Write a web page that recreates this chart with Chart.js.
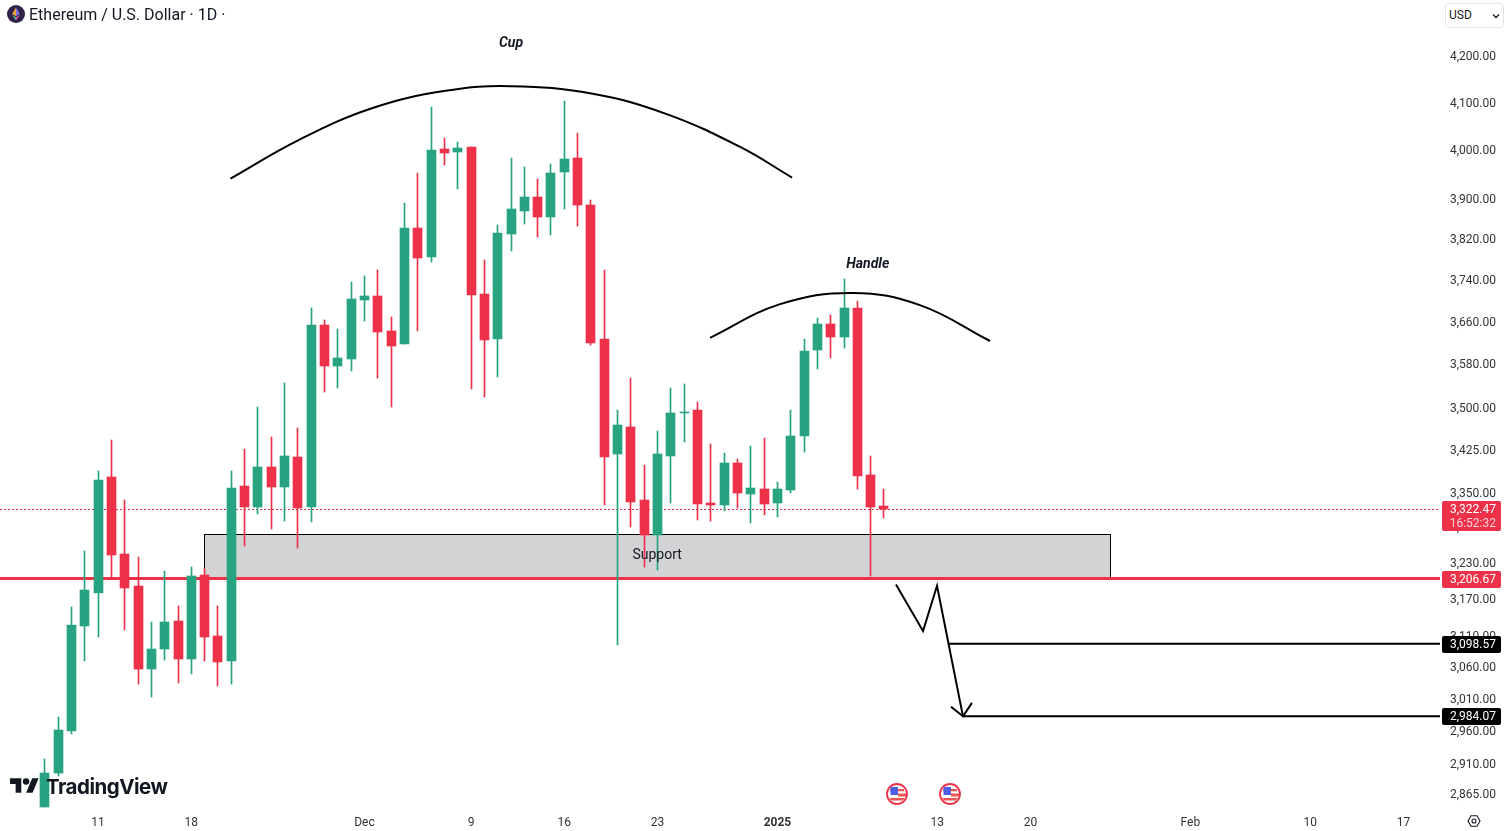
<!DOCTYPE html>
<html>
<head>
<meta charset="utf-8">
<title>Ethereum / U.S. Dollar</title>
<script src="https://cdn.jsdelivr.net/npm/chart.js@4/dist/chart.umd.js"></script>
<style>
  html, body { margin: 0; padding: 0; background: #fff; }
  #wrap { position: relative; width: 1506px; height: 831px; overflow: hidden; font-family: Roboto, sans-serif; }
  canvas { position: absolute; left: 0; top: 0; }
  .title { position: absolute; left: 29px; top: 5px; font-size: 16px; line-height: 19px; color: #131722; white-space: nowrap; }
  .coin { position: absolute; left: 7px; top: 5px; }
  .usd { position: absolute; left: 1445px; top: 3px; width: 57px; height: 23px; border: 1px solid #e0e3eb; border-radius: 4px; background: #fff; font-size: 12px; line-height: 23px; color: #131722; text-indent: 3px; }
  .usd svg { position: absolute; right: 3px; top: 9px; }
  .logo { position: absolute; left: 10px; top: 778px; }
  .logoText { position: absolute; left: 46px; top: 773px; font-family: Inter, sans-serif; font-weight: 700; font-size: 20.5px; line-height: 28px; color: #131722; letter-spacing: -0.5px; }
  .flag { position: absolute; top: 783px; }
  .gear { position: absolute; left: 1467px; top: 814px; }
</style>
</head>
<body>
<div id="wrap">
  <canvas id="chart" width="1506" height="831"></canvas>
  <svg class="coin" width="18" height="18" viewBox="0 0 18 18">
    <circle cx="9" cy="9" r="9" fill="#2f2147"/>
    <path d="M9 2.5L5 9l4 2.2z" fill="#e8a33d"/>
    <path d="M9 2.5L13 9l-4 2.2z" fill="#7c6fe0"/>
    <path d="M5 10l4 5.5v-3.2z" fill="#3fbf8f"/>
    <path d="M13 10l-4 5.5v-3.2z" fill="#e0559b"/>
  </svg>
  <div class="title">Ethereum / U.S. Dollar · 1D ·</div>
  <div class="usd">USD<svg width="8" height="6" viewBox="0 0 8 6"><path d="M1 1.5l3 3 3-3" fill="none" stroke="#131722" stroke-width="1.3"/></svg></div>
  <svg class="logo" width="29" height="15" viewBox="0 4 36 18"><path fill="#131722" d="M14 22H7V11H0V4h14v18zM28 22h-8l7.5-18h8L28 22z"/><circle fill="#131722" cx="20" cy="8" r="4"/></svg>
  <div class="logoText">TradingView</div>
  <svg class="flag" style="left:886px" width="22" height="22" viewBox="0 0 22 22"><use href="#usFlag"/></svg>
  <svg class="flag" style="left:939px" width="22" height="22" viewBox="0 0 22 22"><use href="#usFlag"/></svg>
  <svg class="gear" width="14" height="14" viewBox="0 0 14 14"><path d="M4 1.8h6L13 7l-3 5.2H4L1 7z" fill="none" stroke="#131722" stroke-width="1.1"/><circle cx="7" cy="7" r="2" fill="none" stroke="#131722" stroke-width="1.1"/></svg>
  <svg width="0" height="0" style="position:absolute">
    <symbol id="usFlag" viewBox="0 0 22 22">
      <circle cx="11" cy="11" r="10" fill="#fff" stroke="#ec3149" stroke-width="1.8"/>
      <path d="M4 6h14v2.2H4zM12 10.5h8v3h-8zM3.5 15h15l-1.5 2.5H5z" fill="#ef5350"/>
      <rect x="4.5" y="4" width="7.5" height="8" fill="#4d5fe0"/>
    </symbol>
  </svg>
</div>
<script>
// Daily candles, first one is 7 Nov
const opens = [2847,2898,2962,3127,3181,3378,3246,3193,3058,3090,3135,3074,3211,3111,3071,3363,3326,3396,3361,3414,3326,3655,3579,3591,3703,3710,3644,3619,3844,3786,4004,3998,4009,3715,3629,3832,3878,3906,3866,3957,3986,3890,3629,3419,3467,3338,3278,3415,3492,3498,3333,3330,3403,3349,3357,3333,3356,3451,3608,3657,3633,3688,3382,3328];
const highs = [2919,2983,3158,3251,3389,3444,3338,3241,3134,3218,3160,3225,3223,3160,3389,3428,3503,3449,3547,3465,3688,3665,3648,3738,3750,3761,3671,3894,3955,4093,4028,4019,4009,3781,3850,3986,3967,3943,3974,4105,4038,3900,3761,3498,3556,3400,3460,3538,3545,3512,3437,3421,3410,3433,3447,3370,3498,3629,3669,3674,3744,3701,3415,3358];
const lows = [2847,2893,2957,3071,3110,3208,3121,3035,3014,3073,3036,3050,3071,3032,3035,3260,3314,3289,3302,3256,3301,3531,3538,3569,3663,3556,3503,3619,3644,3777,3972,3922,3536,3521,3558,3798,3852,3826,3830,3882,3848,3618,3330,3097,3292,3224,3219,3333,3440,3304,3302,3319,3324,3299,3313,3309,3350,3422,3573,3593,3612,3357,3209,3307];
const closes = [2898,2963,3129,3186,3373,3244,3190,3058,3090,3134,3074,3210,3110,3070,3359,3326,3396,3361,3415,3324,3655,3579,3593,3705,3710,3642,3616,3844,3785,4002,3996,4006,3713,3627,3834,3882,3906,3866,3955,3984,3890,3621,3414,3471,3335,3278,3419,3492,3494,3331,3330,3403,3350,3359,3331,3357,3451,3606,3657,3633,3688,3380,3326,3322.47];

// Axis ticks
const priceTicks = [4200,4100,4000,3900,3820,3740,3660,3580,3500,3425,3350,3290,3230,3170,3110,3060,3010,2960,2910,2865];
const dateTickIndex = [4,11,24,32,39,46,55,67,74,86,95,102];
const dateTickLabels = ['11','18','Dec','9','16','23','2025','13','20','Feb','10','17'];

// Drawn on top of the candles
const cupIndex = [13.94,19.05,24.56,30.09,35,41.13,46.64,52.2,56.1];
const cupPrice = [3943.5,4023,4090,4127,4137,4120.6,4078,4008.6,3945.5];
const handleIndex = [49.94,55.2,60.67,65.7,70.96];
const handlePrice = [3631,3695,3716.5,3693,3625];
const zigzagIndex = [63.9,65.93,66.98,68.93];
const zigzagPrice = [3195,3119,3193,2984.07];
const arrowIndex = [68.03,68.93,69.6];
const arrowPrice = [2999,2984.07,3005];

// Tag values, and where their lines actually sit in the picture
const currentPrice = 3322.47;
const currentLine = 3321.8;
const supportPrice = 3206.67;
const supportLine = 3205;
const targetPrices = [3098.57,2984.07];
const targetStart = [67.88,68.93];
const supportBox = [11.95,80.05,3280,3208];

const upColor = '#28a382';
const downColor = '#ec3149';
const xMin = -3.363;
const xMax = 104.74;

const candleColors = closes.map((c, i) => (c >= opens[i] ? upColor : downColor));
const fmt = v => v.toLocaleString('en-US', { minimumFractionDigits: 2, maximumFractionDigits: 2 });
const toPoints = (xs, ys) => xs.map((x, i) => ({ x: x, y: ys[i] }));

function lineSet(points, color, width, order, extra) {
  return Object.assign({
    type: 'line',
    data: points,
    borderColor: color,
    borderWidth: width,
    pointRadius: 0,
    order: order
  }, extra || {});
}

// Snap the candles to whole pixels so wicks stay crisp
const snapCandles = {
  id: 'snapCandles',
  beforeDatasetsDraw(chart) {
    chart.getSortedVisibleDatasetMetas().forEach(meta => {
      if (meta.type !== 'bar') return;
      meta.data.forEach(el => {
        el.x = Math.floor(el.x) + 0.5;
        el.y = Math.round(el.y);
        el.base = Math.round(el.base);
        if (el.y === el.base) el.base += 1;
      });
    });
  }
};

// Grey support zone sits under everything
const supportZone = {
  id: 'supportZone',
  beforeDatasetsDraw(chart) {
    const { ctx, scales } = chart;
    const left = Math.round(scales.x.getPixelForValue(supportBox[0]));
    const right = Math.round(scales.x.getPixelForValue(supportBox[1]));
    const top = Math.round(scales.y.getPixelForValue(supportBox[2]));
    const bottom = Math.round(scales.y.getPixelForValue(supportBox[3]));
    ctx.save();
    ctx.fillStyle = '#d3d3d5';
    ctx.strokeStyle = '#000';
    ctx.lineWidth = 1;
    ctx.fillRect(left, top, right - left, bottom - top);
    ctx.strokeRect(left + 0.5, top + 0.5, right - left - 1, bottom - top);
    ctx.restore();
  }
};

// Pattern labels and the price tags on the axis
const noteIndex = [35,61.78,45.97];
const notePrice = [4228.4,3771,3244];
const noteText = ['Cup','Handle','Support'];
const noteFont = ['italic bold 14px Roboto','italic bold 14px Roboto','14px Roboto'];
const tagPrices = [supportLine,targetPrices[0],targetPrices[1]];
const tagLabels = [supportPrice,targetPrices[0],targetPrices[1]];
const tagColors = [downColor,'#000','#000'];

const labelsAndTags = {
  id: 'labelsAndTags',
  afterDraw(chart) {
    const { ctx, scales } = chart;
    ctx.save();
    ctx.textBaseline = 'middle';
    ctx.textAlign = 'center';
    ctx.fillStyle = '#131722';
    noteText.forEach((text, i) => {
      ctx.font = noteFont[i];
      ctx.fillText(text, scales.x.getPixelForValue(noteIndex[i]), scales.y.getPixelForValue(notePrice[i]));
    });

    ctx.font = '12px Roboto';
    ctx.textAlign = 'right';
    tagPrices.forEach((price, i) => {
      const y = Math.round(scales.y.getPixelForValue(price));
      ctx.fillStyle = tagColors[i];
      ctx.beginPath();
      ctx.roundRect(1442, y - 8, 59, 17, 2);
      ctx.fill();
      ctx.fillStyle = '#fff';
      ctx.fillText(fmt(tagLabels[i]), 1496, y + 1);
    });

    // current price has the countdown under it
    const y = Math.round(scales.y.getPixelForValue(currentPrice));
    ctx.fillStyle = downColor;
    ctx.beginPath();
    ctx.roundRect(1442, y - 8, 59, 30, 2);
    ctx.fill();
    ctx.fillStyle = '#fff';
    ctx.fillText(fmt(currentPrice), 1496, y + 1);
    ctx.fillStyle = '#fbd0d6';
    ctx.fillText('16:52:32', 1496, y + 15);
    ctx.restore();
  }
};

new Chart(document.getElementById('chart'), {
  type: 'bar',
  data: {
    datasets: [
      lineSet(toPoints([xMin, xMax], [supportLine, supportLine]), downColor, 3, 10),
      lineSet(toPoints([xMin, xMax], [currentLine, currentLine]), downColor, 1, 10, { borderDash: [2, 2] }),
      {
        data: lows.map((low, i) => ({ x: i, y: [low, highs[i]] })),
        backgroundColor: candleColors,
        barThickness: 1,
        grouped: false,
        order: 6
      },
      {
        data: opens.map((open, i) => ({ x: i, y: [open, closes[i]] })),
        backgroundColor: candleColors,
        barThickness: 9,
        grouped: false,
        order: 5
      },
      lineSet(toPoints(cupIndex, cupPrice), '#000', 2, 1, { tension: 0.4 }),
      lineSet(toPoints(handleIndex, handlePrice), '#000', 2, 1, { tension: 0.4 }),
      lineSet(toPoints(zigzagIndex, zigzagPrice), '#000', 2, 1),
      lineSet(toPoints(arrowIndex, arrowPrice), '#000', 2, 1),
      lineSet(toPoints([targetStart[0], xMax], [targetPrices[0], targetPrices[0]]), '#000', 2, 1),
      lineSet(toPoints([targetStart[1], xMax], [targetPrices[1], targetPrices[1]]), '#000', 2, 1)
    ]
  },
  options: {
    responsive: false,
    animation: false,
    layout: { padding: { right: 10 } },
    plugins: { legend: { display: false }, tooltip: { enabled: false } },
    scales: {
      x: {
        type: 'linear',
        offset: false,
        min: xMin,
        max: xMax,
        grid: { display: false, offset: false, drawTicks: false },
        border: { display: false },
        afterBuildTicks: axis => { axis.ticks = dateTickIndex.map(v => ({ value: v })); },
        afterFit: axis => { axis.height = 20; axis.paddingLeft = 0; axis.paddingRight = 0; },
        ticks: {
          autoSkip: false,
          maxRotation: 0,
          padding: 5,
          color: '#333',
          font: ctx => ({ family: 'Roboto', size: 12, weight: ctx.tick && ctx.tick.value === 55 ? 'bold' : 'normal' }),
          callback: v => dateTickLabels[dateTickIndex.indexOf(v)]
        }
      },
      y: {
        type: 'logarithmic',
        position: 'right',
        min: 2841.2,
        max: 4325.9,
        bounds: 'data',
        grid: { display: false, drawTicks: false },
        border: { display: false },
        afterBuildTicks: axis => { axis.ticks = priceTicks.map(v => ({ value: v })); },
        afterFit: axis => { axis.width = 56; axis.paddingTop = 0; axis.paddingBottom = 0; },
        ticks: {
          autoSkip: false,
          crossAlign: 'far',
          labelOffset: 0.3,
          color: '#333',
          font: { family: 'Roboto', size: 12 },
          callback: v => fmt(v)
        }
      }
    }
  },
  plugins: [supportZone, snapCandles, labelsAndTags]
});
</script>
</body>
</html>
